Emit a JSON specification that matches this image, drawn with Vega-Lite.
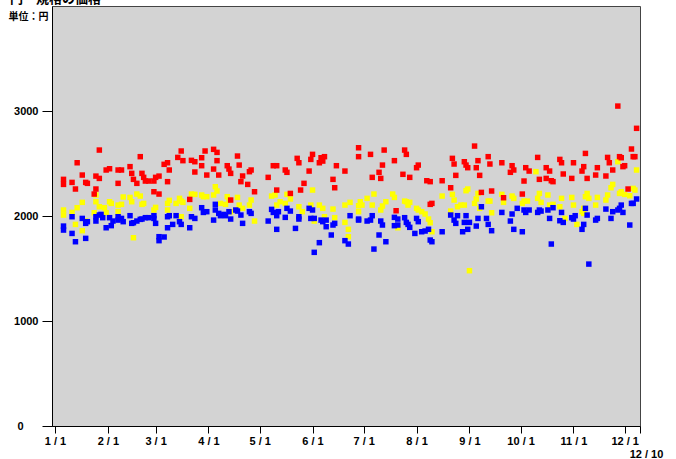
{
"$schema":"https://vega.github.io/schema/vega-lite/v6.json",
"width":588,"height":420,
"autosize":{"type":"none"},
"padding":{"left":52,"top":6,"right":36,"bottom":33},
"background":"white",
"title":{"text":"円・規格の価格","anchor":"start","frame":"group","offset":0,"dx":-42,"dy":10,"fontSize":13,"font":"Noto Sans CJK JP","fontWeight":"bold","baseline":"alphabetic","color":"black"},
"config":{"view":{"fill":"#d3d3d3","stroke":"#444","strokeWidth":1}},
"data":{"values":[
{"date":"2010-01-06","series":"中値","price":2009},{"date":"2010-01-06","series":"中値","price":2057},{"date":"2010-01-11","series":"中値","price":2034},{"date":"2010-01-13","series":"中値","price":1920},{"date":"2010-01-14","series":"中値","price":2079},{"date":"2010-01-17","series":"中値","price":1860},{"date":"2010-01-17","series":"中値","price":2130},{"date":"2010-01-19","series":"中値","price":1952},{"date":"2010-01-24","series":"中値","price":2031},{"date":"2010-01-25","series":"中値","price":2200},{"date":"2010-01-25","series":"中値","price":2136},{"date":"2010-01-27","series":"中値","price":2088},{"date":"2010-01-30","series":"中値","price":2079},{"date":"2010-01-31","series":"中値","price":2031},{"date":"2010-02-02","series":"中値","price":2136},{"date":"2010-02-03","series":"中値","price":2120},{"date":"2010-02-07","series":"中値","price":2041},{"date":"2010-02-07","series":"中値","price":2104},{"date":"2010-02-09","series":"中値","price":2111},{"date":"2010-02-10","series":"中値","price":2181},{"date":"2010-02-14","series":"中値","price":2177},{"date":"2010-02-15","series":"中値","price":2136},{"date":"2010-02-16","series":"中値","price":1793},{"date":"2010-02-18","series":"中値","price":2209},{"date":"2010-02-20","series":"中値","price":2190},{"date":"2010-02-21","series":"中値","price":2111},{"date":"2010-02-22","series":"中値","price":2120},{"date":"2010-02-28","series":"中値","price":2057},{"date":"2010-03-01","series":"中値","price":2082},{"date":"2010-03-08","series":"中値","price":2120},{"date":"2010-03-08","series":"中値","price":2057},{"date":"2010-03-09","series":"中値","price":2149},{"date":"2010-03-13","series":"中値","price":2120},{"date":"2010-03-15","series":"中値","price":2168},{"date":"2010-03-16","series":"中値","price":2142},{"date":"2010-03-17","series":"中値","price":2130},{"date":"2010-03-16","series":"中値","price":1993},{"date":"2010-03-21","series":"中値","price":2073},{"date":"2010-03-22","series":"中値","price":2209},{"date":"2010-03-24","series":"中値","price":2206},{"date":"2010-03-28","series":"中値","price":2200},
{"date":"2010-03-29","series":"中値","price":2184},{"date":"2010-03-31","series":"中値","price":2184},{"date":"2010-04-04","series":"中値","price":2200},{"date":"2010-04-05","series":"中値","price":2279},{"date":"2010-04-06","series":"中値","price":2238},{"date":"2010-04-08","series":"中値","price":2120},{"date":"2010-04-11","series":"中値","price":2111},{"date":"2010-04-12","series":"中値","price":2184},{"date":"2010-04-13","series":"中値","price":2152},{"date":"2010-04-14","series":"中値","price":2041},{"date":"2010-04-17","series":"中値","price":2057},{"date":"2010-04-18","series":"中値","price":2177},{"date":"2010-04-19","series":"中値","price":2104},{"date":"2010-04-21","series":"中値","price":2073},{"date":"2010-04-25","series":"中値","price":2104},{"date":"2010-04-26","series":"中値","price":2152},{"date":"2010-04-28","series":"中値","price":1952},{"date":"2010-05-08","series":"中値","price":2190},{"date":"2010-05-10","series":"中値","price":2200},{"date":"2010-05-11","series":"中値","price":2104},{"date":"2010-05-13","series":"中値","price":2136},{"date":"2010-05-16","series":"中値","price":2120},{"date":"2010-05-17","series":"中値","price":2206},{"date":"2010-05-19","series":"中値","price":2162},{"date":"2010-05-24","series":"中値","price":2088},{"date":"2010-05-26","series":"中値","price":2041},{"date":"2010-05-31","series":"中値","price":2104},{"date":"2010-06-01","series":"中値","price":2247},{"date":"2010-06-02","series":"中値","price":1952},{"date":"2010-06-05","series":"中値","price":2104},{"date":"2010-06-07","series":"中値","price":2073},{"date":"2010-06-08","series":"中値","price":1993},{"date":"2010-06-13","series":"中値","price":2066},{"date":"2010-06-14","series":"中値","price":1984},{"date":"2010-06-20","series":"中値","price":2104},{"date":"2010-06-20","series":"中値","price":1939},{"date":"2010-06-22","series":"中値","price":1873},{"date":"2010-06-22","series":"中値","price":1803},{"date":"2010-06-23","series":"中値","price":2130},
{"date":"2010-06-28","series":"中値","price":2041},{"date":"2010-06-28","series":"中値","price":2098},{"date":"2010-06-29","series":"中値","price":2136},{"date":"2010-06-30","series":"中値","price":2104},{"date":"2010-07-03","series":"中値","price":2168},{"date":"2010-07-06","series":"中値","price":2104},{"date":"2010-07-07","series":"中値","price":2209},{"date":"2010-07-11","series":"中値","price":2057},{"date":"2010-07-12","series":"中値","price":2095},{"date":"2010-07-14","series":"中値","price":2136},{"date":"2010-07-18","series":"中値","price":2209},{"date":"2010-07-19","series":"中値","price":2177},{"date":"2010-07-21","series":"中値","price":1908},{"date":"2010-07-21","series":"中値","price":1888},{"date":"2010-07-25","series":"中値","price":2142},{"date":"2010-07-26","series":"中値","price":2136},{"date":"2010-07-27","series":"中値","price":2104},{"date":"2010-07-28","series":"中値","price":2130},{"date":"2010-08-01","series":"中値","price":2073},{"date":"2010-08-02","series":"中値","price":2057},{"date":"2010-08-04","series":"中値","price":2041},{"date":"2010-08-06","series":"中値","price":2019},{"date":"2010-08-08","series":"中値","price":1971},{"date":"2010-08-09","series":"中値","price":1936},{"date":"2010-08-10","series":"中値","price":1850},{"date":"2010-08-16","series":"中値","price":2190},{"date":"2010-08-21","series":"中値","price":2047},{"date":"2010-08-22","series":"中値","price":2206},{"date":"2010-08-23","series":"中値","price":2152},{"date":"2010-08-25","series":"中値","price":2088},{"date":"2010-08-27","series":"中値","price":2104},{"date":"2010-08-29","series":"中値","price":2104},{"date":"2010-08-30","series":"中値","price":2241},{"date":"2010-08-31","series":"中値","price":2257},{"date":"2010-09-01","series":"中値","price":1479},{"date":"2010-09-04","series":"中値","price":2120},{"date":"2010-09-05","series":"中値","price":2162},{"date":"2010-09-06","series":"中値","price":2215},{"date":"2010-09-07","series":"中値","price":2073},{"date":"2010-09-12","series":"中値","price":2142},{"date":"2010-09-13","series":"中値","price":2142},{"date":"2010-09-14","series":"中値","price":2031},
{"date":"2010-09-20","series":"中値","price":2206},{"date":"2010-09-21","series":"中値","price":2130},{"date":"2010-09-26","series":"中値","price":2190},{"date":"2010-09-27","series":"中値","price":2168},{"date":"2010-10-02","series":"中値","price":2120},{"date":"2010-10-03","series":"中値","price":2142},{"date":"2010-10-05","series":"中値","price":2142},{"date":"2010-10-10","series":"中値","price":2422},{"date":"2010-10-11","series":"中値","price":2168},{"date":"2010-10-12","series":"中値","price":2215},{"date":"2010-10-13","series":"中値","price":2130},{"date":"2010-10-17","series":"中値","price":2200},{"date":"2010-10-18","series":"中値","price":2104},{"date":"2010-10-20","series":"中値","price":2111},{"date":"2010-10-24","series":"中値","price":2088},{"date":"2010-10-25","series":"中値","price":2168},{"date":"2010-10-27","series":"中値","price":1977},{"date":"2010-10-31","series":"中値","price":2177},{"date":"2010-11-01","series":"中値","price":2104},{"date":"2010-11-03","series":"中値","price":1920},{"date":"2010-11-06","series":"中値","price":2041},{"date":"2010-11-07","series":"中値","price":2073},{"date":"2010-11-07","series":"中値","price":2025},{"date":"2010-11-08","series":"中値","price":2184},{"date":"2010-11-09","series":"中値","price":2215},{"date":"2010-11-10","series":"中値","price":2168},{"date":"2010-11-14","series":"中値","price":2104},{"date":"2010-11-15","series":"中値","price":2177},{"date":"2010-11-20","series":"中値","price":2152},{"date":"2010-11-21","series":"中値","price":2200},{"date":"2010-11-23","series":"中値","price":2269},{"date":"2010-11-24","series":"中値","price":2301},{"date":"2010-11-27","series":"中値","price":2517},{"date":"2010-11-28","series":"中値","price":2215},{"date":"2010-11-29","series":"中値","price":2231},{"date":"2010-12-01","series":"中値","price":2206},{"date":"2010-12-04","series":"中値","price":2193},{"date":"2010-12-06","series":"中値","price":2263},{"date":"2010-12-07","series":"中値","price":2247},{"date":"2010-12-08","series":"中値","price":2438},
{"date":"2010-01-06","series":"安値","price":1904},{"date":"2010-01-06","series":"安値","price":1866},{"date":"2010-01-11","series":"安値","price":1993},{"date":"2010-01-11","series":"安値","price":1834},{"date":"2010-01-13","series":"安値","price":1755},{"date":"2010-01-17","series":"安値","price":1977},{"date":"2010-01-19","series":"安値","price":1930},{"date":"2010-01-19","series":"安値","price":1787},{"date":"2010-01-20","series":"安値","price":1946},{"date":"2010-01-25","series":"安値","price":1952},{"date":"2010-01-25","series":"安値","price":1993},{"date":"2010-01-27","series":"安値","price":2009},{"date":"2010-01-28","series":"安値","price":2015},{"date":"2010-01-29","series":"安値","price":1984},{"date":"2010-01-31","series":"安値","price":1888},{"date":"2010-02-02","series":"安値","price":1984},{"date":"2010-02-03","series":"安値","price":1908},{"date":"2010-02-04","series":"安値","price":1952},{"date":"2010-02-07","series":"安値","price":1993},{"date":"2010-02-07","series":"安値","price":1961},{"date":"2010-02-09","series":"安値","price":1977},{"date":"2010-02-10","series":"安値","price":1946},{"date":"2010-02-14","series":"安値","price":2003},{"date":"2010-02-15","series":"安値","price":1930},{"date":"2010-02-16","series":"安値","price":1936},{"date":"2010-02-18","series":"安値","price":1952},{"date":"2010-02-20","series":"安値","price":1968},{"date":"2010-02-21","series":"安値","price":1971},{"date":"2010-02-23","series":"安値","price":1984},{"date":"2010-02-25","series":"安値","price":1984},{"date":"2010-02-28","series":"安値","price":2003},{"date":"2010-02-28","series":"安値","price":1977},{"date":"2010-03-01","series":"安値","price":1930},{"date":"2010-03-03","series":"安値","price":1803},{"date":"2010-03-03","series":"安値","price":1765},{"date":"2010-03-06","series":"安値","price":1800},{"date":"2010-03-08","series":"安値","price":1993},{"date":"2010-03-08","series":"安値","price":1888},{"date":"2010-03-09","series":"安値","price":2003},{"date":"2010-03-11","series":"安値","price":1920},{"date":"2010-03-13","series":"安値","price":2003},{"date":"2010-03-15","series":"安値","price":1946},{"date":"2010-03-16","series":"安値","price":1920},{"date":"2010-03-21","series":"安値","price":1888},{"date":"2010-03-22","series":"安値","price":1993},{"date":"2010-03-24","series":"安値","price":1977},{"date":"2010-03-28","series":"安値","price":2079},
{"date":"2010-03-29","series":"安値","price":2034},{"date":"2010-03-31","series":"安値","price":2041},{"date":"2010-04-04","series":"安値","price":1961},{"date":"2010-04-05","series":"安値","price":2111},{"date":"2010-04-05","series":"安値","price":2057},{"date":"2010-04-07","series":"安値","price":2025},{"date":"2010-04-08","series":"安値","price":2003},{"date":"2010-04-10","series":"安値","price":2015},{"date":"2010-04-11","series":"安値","price":2003},{"date":"2010-04-13","series":"安値","price":2041},{"date":"2010-04-14","series":"安値","price":1971},{"date":"2010-04-17","series":"安値","price":2057},{"date":"2010-04-18","series":"安値","price":2047},{"date":"2010-04-20","series":"安値","price":2009},{"date":"2010-04-21","series":"安値","price":1930},{"date":"2010-04-25","series":"安値","price":2041},{"date":"2010-04-26","series":"安値","price":2025},{"date":"2010-05-06","series":"安値","price":1952},{"date":"2010-05-08","series":"安値","price":2063},{"date":"2010-05-09","series":"安値","price":2034},{"date":"2010-05-11","series":"安値","price":2003},{"date":"2010-05-12","series":"安値","price":2041},{"date":"2010-05-11","series":"安値","price":1873},{"date":"2010-05-16","series":"安値","price":1987},{"date":"2010-05-17","series":"安値","price":2073},{"date":"2010-05-19","series":"安値","price":2047},{"date":"2010-05-22","series":"安値","price":1882},{"date":"2010-05-24","series":"安値","price":1971},{"date":"2010-05-24","series":"安値","price":1993},{"date":"2010-05-30","series":"安値","price":2073},{"date":"2010-06-01","series":"安値","price":2057},{"date":"2010-05-31","series":"安値","price":1977},{"date":"2010-06-02","series":"安値","price":1977},{"date":"2010-06-05","series":"安値","price":1746},{"date":"2010-06-02","series":"安値","price":1654},{"date":"2010-06-06","series":"安値","price":1961},{"date":"2010-06-07","series":"安値","price":1946},{"date":"2010-06-09","series":"安値","price":1961},{"date":"2010-06-09","series":"安値","price":1898},{"date":"2010-06-12","series":"安値","price":1819},{"date":"2010-06-13","series":"安値","price":1914},{"date":"2010-06-14","series":"安値","price":1930},{"date":"2010-06-20","series":"安値","price":1765},{"date":"2010-06-22","series":"安値","price":1733},{"date":"2010-06-23","series":"安値","price":2003},
{"date":"2010-06-28","series":"安値","price":1971},{"date":"2010-06-28","series":"安値","price":1961},{"date":"2010-07-03","series":"安値","price":1952},{"date":"2010-07-06","series":"安値","price":2003},{"date":"2010-07-05","series":"安値","price":1961},{"date":"2010-07-11","series":"安値","price":1952},{"date":"2010-07-12","series":"安値","price":1914},{"date":"2010-07-10","series":"安値","price":1819},{"date":"2010-07-14","series":"安値","price":1755},{"date":"2010-07-07","series":"安値","price":1685},{"date":"2010-07-19","series":"安値","price":1987},{"date":"2010-07-19","series":"安値","price":1908},{"date":"2010-07-21","series":"安値","price":1971},{"date":"2010-07-21","series":"安値","price":1914},{"date":"2010-07-25","series":"安値","price":1984},{"date":"2010-07-26","series":"安値","price":1939},{"date":"2010-07-27","series":"安値","price":1920},{"date":"2010-07-28","series":"安値","price":1892},{"date":"2010-07-31","series":"安値","price":1834},{"date":"2010-08-01","series":"安値","price":1977},{"date":"2010-08-02","series":"安値","price":1946},{"date":"2010-08-04","series":"安値","price":1850},{"date":"2010-08-06","series":"安値","price":1857},{"date":"2010-08-08","series":"安値","price":1873},{"date":"2010-08-09","series":"安値","price":1771},{"date":"2010-08-10","series":"安値","price":1755},{"date":"2010-08-16","series":"安値","price":1850},{"date":"2010-08-21","series":"安値","price":2009},{"date":"2010-08-23","series":"安値","price":1961},{"date":"2010-08-24","series":"安値","price":1930},{"date":"2010-08-25","series":"安値","price":2003},{"date":"2010-08-28","series":"安値","price":1850},{"date":"2010-08-29","series":"安値","price":1939},{"date":"2010-08-30","series":"安値","price":2003},{"date":"2010-08-31","series":"安値","price":1873},{"date":"2010-09-01","series":"安値","price":1939},{"date":"2010-09-05","series":"安値","price":1904},{"date":"2010-09-06","series":"安値","price":1977},{"date":"2010-09-08","series":"安値","price":2088},{"date":"2010-09-11","series":"安値","price":1977},{"date":"2010-09-12","series":"安値","price":1920},{"date":"2010-09-14","series":"安値","price":1860},
{"date":"2010-09-20","series":"安値","price":2034},{"date":"2010-09-25","series":"安値","price":1952},{"date":"2010-09-26","series":"安値","price":2019},{"date":"2010-09-27","series":"安値","price":1873},{"date":"2010-09-29","series":"安値","price":2073},{"date":"2010-10-02","series":"安値","price":1850},{"date":"2010-10-03","series":"安値","price":2057},{"date":"2010-10-04","series":"安値","price":2034},{"date":"2010-10-06","series":"安値","price":2057},{"date":"2010-10-11","series":"安値","price":2034},{"date":"2010-10-12","series":"安値","price":2057},{"date":"2010-10-13","series":"安値","price":2047},{"date":"2010-10-17","series":"安値","price":2057},{"date":"2010-10-18","series":"安値","price":1977},{"date":"2010-10-19","series":"安値","price":1733},{"date":"2010-10-20","series":"安値","price":2079},{"date":"2010-10-24","series":"安値","price":1955},{"date":"2010-10-25","series":"安値","price":2034},{"date":"2010-10-26","series":"安値","price":1939},{"date":"2010-10-31","series":"安値","price":1984},{"date":"2010-11-01","series":"安値","price":1971},{"date":"2010-11-02","series":"安値","price":2003},{"date":"2010-11-06","series":"安値","price":1873},{"date":"2010-11-07","series":"安値","price":1920},{"date":"2010-11-08","series":"安値","price":2073},{"date":"2010-11-09","series":"安値","price":2009},{"date":"2010-11-10","series":"安値","price":1542},{"date":"2010-11-14","series":"安値","price":1961},{"date":"2010-11-15","series":"安値","price":1977},{"date":"2010-11-20","series":"安値","price":2066},{"date":"2010-11-23","series":"安値","price":1977},{"date":"2010-11-24","series":"安値","price":2041},{"date":"2010-11-27","series":"安値","price":2057},{"date":"2010-11-28","series":"安値","price":2073},{"date":"2010-11-29","series":"安値","price":2104},{"date":"2010-11-30","series":"安値","price":2034},{"date":"2010-12-04","series":"安値","price":1914},{"date":"2010-12-05","series":"安値","price":2120},{"date":"2010-12-06","series":"安値","price":2120},{"date":"2010-12-08","series":"安値","price":2162},
{"date":"2010-01-06","series":"高値","price":2349},{"date":"2010-01-06","series":"高値","price":2301},{"date":"2010-01-11","series":"高値","price":2320},{"date":"2010-01-13","series":"高値","price":2257},{"date":"2010-01-14","series":"高値","price":2507},{"date":"2010-01-17","series":"高値","price":2390},{"date":"2010-01-19","series":"高値","price":2320},{"date":"2010-01-20","series":"高値","price":2311},{"date":"2010-01-24","series":"高値","price":2209},{"date":"2010-01-25","series":"高値","price":2257},{"date":"2010-01-25","series":"高値","price":2380},{"date":"2010-01-27","series":"高値","price":2358},{"date":"2010-01-27","series":"高値","price":2628},{"date":"2010-01-31","series":"高値","price":2438},{"date":"2010-02-02","series":"高値","price":2450},{"date":"2010-02-07","series":"高値","price":2311},{"date":"2010-02-07","series":"高値","price":2438},{"date":"2010-02-09","series":"高値","price":2438},{"date":"2010-02-14","series":"高値","price":2470},{"date":"2010-02-15","series":"高値","price":2406},{"date":"2010-02-16","series":"高値","price":2349},{"date":"2010-02-18","series":"高値","price":2311},{"date":"2010-02-20","series":"高値","price":2565},{"date":"2010-02-21","series":"高値","price":2406},{"date":"2010-02-22","series":"高値","price":2368},{"date":"2010-02-23","series":"高値","price":2333},{"date":"2010-02-25","series":"高値","price":2333},{"date":"2010-02-28","series":"高値","price":2231},{"date":"2010-02-28","series":"高値","price":2333},{"date":"2010-03-01","series":"高値","price":2368},{"date":"2010-03-03","series":"高値","price":2380},{"date":"2010-03-03","series":"高値","price":2209},{"date":"2010-03-06","series":"高値","price":2492},{"date":"2010-03-08","series":"高値","price":2507},{"date":"2010-03-08","series":"高値","price":2327},{"date":"2010-03-09","series":"高値","price":2438},{"date":"2010-03-14","series":"高値","price":2558},{"date":"2010-03-16","series":"高値","price":2619},{"date":"2010-03-17","series":"高値","price":2527},{"date":"2010-03-21","series":"高値","price":2158},{"date":"2010-03-22","series":"高値","price":2530},{"date":"2010-03-24","series":"高値","price":2419},{"date":"2010-03-24","series":"高値","price":2517},{"date":"2010-03-28","series":"高値","price":2479},{"date":"2010-03-28","series":"高値","price":2555},
{"date":"2010-03-30","series":"高値","price":2619},{"date":"2010-03-31","series":"高値","price":2390},{"date":"2010-04-04","series":"高値","price":2447},{"date":"2010-04-04","series":"高値","price":2635},{"date":"2010-04-06","series":"高値","price":2606},{"date":"2010-04-06","series":"高値","price":2527},{"date":"2010-04-07","series":"高値","price":2390},{"date":"2010-04-12","series":"高値","price":2479},{"date":"2010-04-13","series":"高値","price":2447},{"date":"2010-04-14","series":"高値","price":2152},{"date":"2010-04-14","series":"高値","price":2406},{"date":"2010-04-18","series":"高値","price":2571},{"date":"2010-04-19","series":"高値","price":2485},{"date":"2010-04-20","series":"高値","price":2327},{"date":"2010-04-21","series":"高値","price":2381},{"date":"2010-04-24","series":"高値","price":2301},{"date":"2010-04-25","series":"高値","price":2422},{"date":"2010-04-26","series":"高値","price":2438},{"date":"2010-04-28","series":"高値","price":2231},{"date":"2010-05-06","series":"高値","price":2368},{"date":"2010-05-09","series":"高値","price":2479},{"date":"2010-05-11","series":"高値","price":2479},{"date":"2010-05-11","series":"高値","price":2247},{"date":"2010-05-16","series":"高値","price":2438},{"date":"2010-05-17","series":"高値","price":2416},{"date":"2010-05-19","series":"高値","price":2215},{"date":"2010-05-23","series":"高値","price":2549},{"date":"2010-05-24","series":"高値","price":2507},{"date":"2010-05-25","series":"高値","price":2247},{"date":"2010-05-27","series":"高値","price":2311},{"date":"2010-05-30","series":"高値","price":2428},{"date":"2010-05-31","series":"高値","price":2539},{"date":"2010-06-01","series":"高値","price":2587},{"date":"2010-06-05","series":"高値","price":2507},{"date":"2010-06-06","series":"高値","price":2555},{"date":"2010-06-07","series":"高値","price":2523},{"date":"2010-06-08","series":"高値","price":2565},{"date":"2010-06-13","series":"高値","price":2349},{"date":"2010-06-14","series":"高値","price":2269},{"date":"2010-06-15","series":"高値","price":2479},{"date":"2010-06-20","series":"高値","price":2428},
{"date":"2010-06-28","series":"高値","price":2650},{"date":"2010-06-28","series":"高値","price":2565},{"date":"2010-07-05","series":"高値","price":2587},{"date":"2010-07-06","series":"高値","price":2368},{"date":"2010-07-10","series":"高値","price":2416},{"date":"2010-07-11","series":"高値","price":2358},{"date":"2010-07-12","series":"高値","price":2485},{"date":"2010-07-13","series":"高値","price":2628},{"date":"2010-07-19","series":"高値","price":2527},{"date":"2010-07-20","series":"高値","price":2050},{"date":"2010-07-24","series":"高値","price":2397},{"date":"2010-07-25","series":"高値","price":2628},{"date":"2010-07-26","series":"高値","price":2587},{"date":"2010-07-28","series":"高値","price":2368},{"date":"2010-08-01","series":"高値","price":2460},{"date":"2010-08-02","series":"高値","price":2485},{"date":"2010-08-07","series":"高値","price":2336},{"date":"2010-08-09","series":"高値","price":2327},{"date":"2010-08-09","series":"高値","price":2111},{"date":"2010-08-10","series":"高値","price":2120},{"date":"2010-08-16","series":"高値","price":2336},{"date":"2010-08-21","series":"高値","price":2269},{"date":"2010-08-22","series":"高値","price":2549},{"date":"2010-08-23","series":"高値","price":2495},{"date":"2010-08-24","series":"高値","price":2387},{"date":"2010-08-29","series":"高値","price":2517},{"date":"2010-08-30","series":"高値","price":2485},{"date":"2010-08-31","series":"高値","price":2460},{"date":"2010-09-04","series":"高値","price":2666},{"date":"2010-09-05","series":"高値","price":2460},{"date":"2010-09-06","series":"高値","price":2527},{"date":"2010-09-07","series":"高値","price":2387},{"date":"2010-09-08","series":"高値","price":2225},{"date":"2010-09-12","series":"高値","price":2565},{"date":"2010-09-13","series":"高値","price":2495},{"date":"2010-09-14","series":"高値","price":2238},
{"date":"2010-09-20","series":"高値","price":2507},{"date":"2010-09-21","series":"高値","price":2174},{"date":"2010-09-25","series":"高値","price":2416},{"date":"2010-09-26","series":"高値","price":2479},{"date":"2010-09-27","series":"高値","price":2438},{"date":"2010-10-02","series":"高値","price":2209},{"date":"2010-10-03","series":"高値","price":2333},{"date":"2010-10-04","series":"高値","price":2460},{"date":"2010-10-06","series":"高値","price":2428},{"date":"2010-10-11","series":"高値","price":2558},{"date":"2010-10-12","series":"高値","price":2349},{"date":"2010-10-16","series":"高値","price":2358},{"date":"2010-10-16","series":"高値","price":2460},{"date":"2010-10-18","series":"高値","price":2428},{"date":"2010-10-19","series":"高値","price":2336},{"date":"2010-10-20","series":"高値","price":2327},{"date":"2010-10-24","series":"高値","price":2539},{"date":"2010-10-25","series":"高値","price":2507},{"date":"2010-10-26","series":"高値","price":2400},{"date":"2010-10-31","series":"高値","price":2358},{"date":"2010-11-01","series":"高値","price":2507},{"date":"2010-11-06","series":"高値","price":2428},{"date":"2010-11-07","series":"高値","price":2470},{"date":"2010-11-08","series":"高値","price":2596},{"date":"2010-11-09","series":"高値","price":2358},{"date":"2010-11-14","series":"高値","price":2390},{"date":"2010-11-15","series":"高値","price":2460},{"date":"2010-11-20","series":"高値","price":2381},{"date":"2010-11-21","series":"高値","price":2558},{"date":"2010-11-22","series":"高値","price":2507},{"date":"2010-11-24","series":"高値","price":2438},{"date":"2010-11-27","series":"高値","price":3047},{"date":"2010-11-28","series":"高値","price":2565},{"date":"2010-11-29","series":"高値","price":2555},{"date":"2010-11-30","series":"高値","price":2470},{"date":"2010-12-01","series":"高値","price":2479},{"date":"2010-12-03","series":"高値","price":2257},{"date":"2010-12-05","series":"高値","price":2638},{"date":"2010-12-06","series":"高値","price":2565},{"date":"2010-12-07","series":"高値","price":2565},{"date":"2010-12-08","series":"高値","price":2835}
]},
"mark":{"type":"point","shape":"square","filled":true,"opacity":1,"size":30},
"encoding":{
"x":{"field":"date","type":"temporal",
 "scale":{"type":"utc","domain":[{"year":2009,"month":12,"date":30,"hours":6,"utc":true},{"year":2010,"month":12,"date":10,"utc":true}]},
 "axis":{"title":null,"grid":false,"labelExpr":"utcFormat(datum.value, '%-m / %-d')",
  "values":[{"year":2010,"month":1,"date":1,"utc":true},{"year":2010,"month":2,"date":1,"utc":true},{"year":2010,"month":3,"date":1,"utc":true},{"year":2010,"month":4,"date":1,"utc":true},{"year":2010,"month":5,"date":1,"utc":true},{"year":2010,"month":6,"date":1,"utc":true},{"year":2010,"month":7,"date":1,"utc":true},{"year":2010,"month":8,"date":1,"utc":true},{"year":2010,"month":9,"date":1,"utc":true},{"year":2010,"month":10,"date":1,"utc":true},{"year":2010,"month":11,"date":1,"utc":true},{"year":2010,"month":12,"date":1,"utc":true},{"year":2010,"month":12,"date":10,"utc":true}],
  "domainColor":"black","tickColor":"black","tickSize":7,"labelFont":"Liberation Sans","labelFontWeight":"bold","labelFontSize":11,"labelColor":"black",
  "labelPadding":{"condition":{"test":"utcdate(datum.value) == 10","value":15},"value":2},
  "labelOffset":{"condition":{"test":"utcdate(datum.value) == 10","value":6},"value":0},
  "labelOverlap":false,"labelFlush":false}},
"y":{"field":"price","type":"quantitative",
 "scale":{"domain":[0,4000],"nice":false},
 "axis":{"title":"単位：円","titleAngle":0,"titleX":-4,"titleY":10,"titleAlign":"right","titleBaseline":"middle","titleFont":"Noto Sans CJK JP","titleFontWeight":"bold","titleFontSize":10,"titleColor":"black",
  "values":[0,1000,2000,3000],"format":"d","grid":false,"domainColor":"black","tickColor":"black","tickSize":10,
  "labelFont":"Liberation Sans","labelFontWeight":"bold","labelFontSize":11,"labelColor":"black",
  "labelPadding":{"condition":{"test":"datum.value == 0","value":19},"value":4}}},
"color":{"field":"series","type":"nominal","scale":{"domain":["中値","安値","高値"],"range":["#ffff00","#0000ff","#ff0000"]},"legend":null}
}
}
